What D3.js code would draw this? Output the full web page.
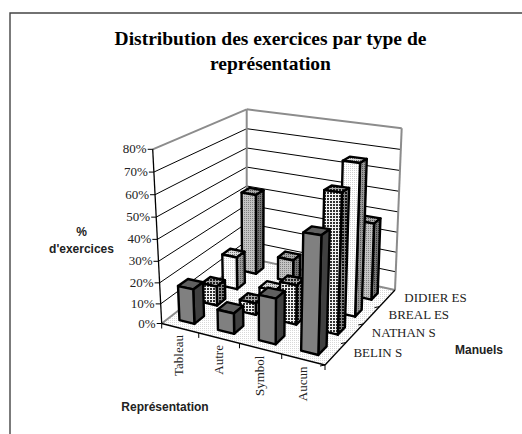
<!DOCTYPE html>
<html><head><meta charset="utf-8">
<script src="https://cdn.jsdelivr.net/npm/d3@7"></script>
<style>html,body{margin:0;padding:0;background:#fff}svg{display:block}</style></head>
<body><script>
const categories=["Tableau","Autre","Symbol","Aucun"];
const manuels=["BELIN S","NATHAN S","BREAL ES","DIDIER ES"];
const belin=[17,10,21,51];
const nathan=[10,6,19,63];
const breal=[17,4,0,71];
const didier=[42,12,0,38];
const zTicks=[0,10,20,30,40,50,60,70,80];
const W=522,H=434;
const svg=d3.select("body").append("svg").attr("width",W).attr("height",H);
const defs=svg.append("defs");
function pat(id,bg,dot,size,r){const p=defs.append("pattern").attr("id",id).attr("width",size).attr("height",size).attr("patternUnits","userSpaceOnUse");
 p.append("rect").attr("width",size).attr("height",size).attr("fill",bg);
 p.append("rect").attr("width",r).attr("height",r).attr("fill",dot);}
pat("pNathan","#f4f4f4","#333",3,2);pat("pNathanS","#888","#111",3,2);pat("pNathanT","#aaa","#222",3,2);
pat("pBreal","#fff","#d0d0d0",2,1);pat("pBrealS","#999","#555",2,1);pat("pBrealT","#ddd","#777",2,1);
pat("pDidier","#c4c4c4","#808080",2,1);pat("pDidierS","#777","#333",2,1);pat("pDidierT","#aaa","#555",2,1);
pat("pFloor","#fff","#d8d8d8",2,1);
const u=d3.scalePow().exponent(1.07).domain([0,4]).range([0,1]);
const v=d3.scalePow().exponent(0.87).domain([0,4]).range([0,1]);
const z=d3.scalePow().exponent(1.05).domain([0,80]).range([0,1]);
const C={fl0:[161.7,323.5],fr0:[325,365],bl0:[246.7,257.7],br0:[395,290],fl1:[152.7,149.3],fr1:[331,168],bl1:[246.7,109.3],br1:[401.7,128.3]};
const lerp=(a,b,t)=>[a[0]+(b[0]-a[0])*t,a[1]+(b[1]-a[1])*t];
function proj(cu,cv,cz){const a=u(cu),b=v(cv),c=z(cz);
 const lo=lerp(lerp(C.fl0,C.fr0,a),lerp(C.bl0,C.br0,a),b);
 const hi=lerp(lerp(C.fl1,C.fr1,a),lerp(C.bl1,C.br1,a),b);
 return lerp(lo,hi,c);}
const line=d3.line();
function poly(pts,fill,sw,stroke){return svg.append("path").attr("d",line(pts)+"Z").attr("fill",fill).attr("stroke",stroke||"#000").attr("stroke-width",sw).attr("stroke-linejoin","round");}
function seg(a,b,col,sw){svg.append("path").attr("d",line([a,b])).attr("fill","none").attr("stroke",col).attr("stroke-width",sw);}
svg.append("path").attr("d","M10,434V13H522").attr("fill","none").attr("stroke","#444").attr("stroke-width",1.4);
poly([proj(0,0,0),proj(4,0,0),proj(4,4,0),proj(0,4,0)],"url(#pFloor)",0,"none");
zTicks.forEach(t=>{if(t===0||t===80)return;
 seg(proj(0,0,t),proj(0,4,t),"#000",1);seg(proj(0,4,t),proj(4,4,t),"#000",1);});
const gray="#8c8c8c";
seg(proj(0,0,0),proj(0,4,0),gray,2);seg(proj(0,4,0),proj(4,4,0),gray,2);
seg(proj(0,0,80),proj(0,4,80),gray,2);seg(proj(0,4,80),proj(4,4,80),gray,2);
seg(proj(0,4,0),proj(0,4,80),gray,2);seg(proj(4,4,0),proj(4,4,80),gray,2);
seg(proj(0,0,0),proj(0,0,80),"#000",1.3);
seg(proj(0,0,0),proj(4,0,0),"#000",1.3);seg(proj(4,0,0),proj(4,4,0),"#000",1.3);
const serif="'Liberation Serif',serif",sans="'Liberation Sans',sans-serif";
zTicks.forEach(t=>{const p=proj(0,0,t);seg(p,[p[0]-5,p[1]],"#000",1);
 svg.append("text").attr("x",p[0]-6).attr("y",p[1]+4).attr("text-anchor","end").attr("font-family",serif).attr("font-size",13).attr("fill","#222").text(t+"%");});
d3.range(5).forEach(i=>{const p=proj(i,0,0);seg(p,[p[0],p[1]+5],"#000",1);});
d3.range(0,4).forEach(i=>{const p=proj(4,i,0);seg(p,[p[0]-5,p[1]+1],"#000",1);});
categories.forEach((c,i)=>{const p=proj(i+.5,0,0);
 svg.append("text").attr("transform",`translate(${p[0]+4},${p[1]+7}) rotate(-90)`).attr("text-anchor","end").attr("font-family",serif).attr("font-size",13).attr("fill","#222").text(c);});
manuels.forEach((m,i)=>{const p=proj(4,i+.5,0);
 svg.append("text").attr("x",p[0]+17).attr("y",p[1]+4).attr("font-family",serif).attr("font-size",13).attr("fill","#222").text(m);});
const seriesVals=[belin,nathan,breal,didier];
const styles=[{f:"#808080",s:"#404040",t:"#606060"},{f:"url(#pNathan)",s:"url(#pNathanS)",t:"url(#pNathanT)"},{f:"url(#pBreal)",s:"url(#pBrealS)",t:"url(#pBrealT)"},{f:"url(#pDidier)",s:"url(#pDidierS)",t:"url(#pDidierT)"}];
for(let si=3;si>=0;si--){seriesVals[si].forEach((val,ci)=>{if(!val)return;
 const a=ci+.3,b=ci+.7,c=si+.25,d=si+.65,st=styles[si];
 poly([proj(a,c,val),proj(b,c,val),proj(b,d,val),proj(a,d,val)],st.t,2.4);
 poly([proj(b,c,0),proj(b,d,0),proj(b,d,val),proj(b,c,val)],st.s,2.4);
 poly([proj(a,c,0),proj(b,c,0),proj(b,c,val),proj(a,c,val)],st.f,2.4);
});}
[["Distribution des exercices par type de",45],["représentation",70]].forEach(d=>svg.append("text").attr("x",270.5).attr("y",d[1]).attr("text-anchor","middle").attr("font-family",serif).attr("font-weight","bold").attr("font-size",19.5).text(d[0]));
[["%",236,81.5],["d'exercices",253,81.5],["Représentation",411,165],["Manuels",354,479]].forEach(d=>svg.append("text").attr("x",d[2]).attr("y",d[1]).attr("text-anchor","middle").attr("font-family",sans).attr("font-weight","bold").attr("font-size",12).attr("fill","#222").text(d[0]));
</script></body></html>
